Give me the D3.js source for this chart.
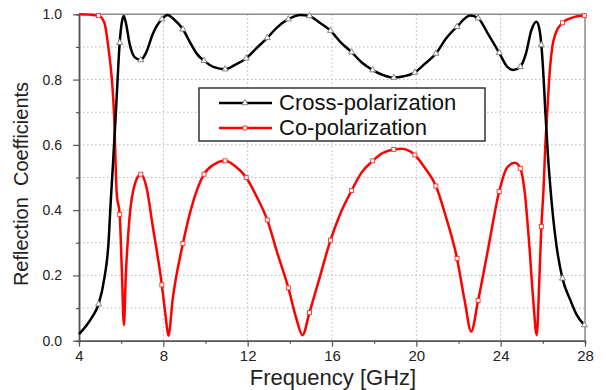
<!DOCTYPE html>
<html>
<head>
<meta charset="utf-8">
<script src="https://cdn.jsdelivr.net/npm/d3@7"></script>
<style>
  body { margin: 0; background: #fff; }
  svg { display: block; font-family: "Liberation Sans", Arial, sans-serif; }
</style>
</head>
<body>
<div id="chart"></div>
<script>
// =====================
// DATA
// =====================
const crossFreq = [4.0, 4.37, 4.65, 4.93, 5.2, 5.4, 5.5, 5.62, 5.75, 5.83, 5.93, 6.03, 6.12, 6.22, 6.4, 6.65, 6.93,
  7.2, 7.5, 7.93, 8.2, 8.5, 8.93, 9.3, 9.6, 9.93, 10.4, 10.93, 11.4, 11.93, 12.4, 12.93, 13.4, 13.93,
  14.5, 14.93, 15.4, 15.93, 16.4, 16.93, 17.4, 17.93, 18.5, 18.93, 19.4, 19.93, 20.4, 20.93, 21.4, 21.93,
  22.55, 22.93, 23.4, 23.93, 24.3, 24.6, 24.93, 25.2, 25.45, 25.7, 25.82, 25.93, 26.04, 26.12, 26.25,
  26.37, 26.5, 26.65, 26.93, 27.3, 27.6, 27.97];
const crossVal = [0.02, 0.048, 0.075, 0.112, 0.19, 0.3, 0.42, 0.55, 0.7, 0.8, 0.913, 0.975, 0.995, 0.975, 0.91, 0.868, 0.86,
  0.885, 0.94, 0.985, 0.998, 0.985, 0.954, 0.91, 0.878, 0.858, 0.838, 0.832, 0.845, 0.865, 0.895, 0.928, 0.96, 0.985,
  0.998, 0.995, 0.975, 0.95, 0.915, 0.884, 0.853, 0.829, 0.812, 0.806, 0.81, 0.822, 0.848, 0.88, 0.925, 0.962,
  0.996, 0.988, 0.94, 0.882, 0.84, 0.829, 0.839, 0.88, 0.95, 0.977, 0.96, 0.906, 0.8, 0.7, 0.56,
  0.46, 0.37, 0.29, 0.191, 0.125, 0.08, 0.048];

const coFreq = [4.0, 4.5, 4.93, 5.2, 5.39, 5.56, 5.66, 5.79, 5.93, 6.03, 6.13, 6.22, 6.4, 6.65, 6.93,
  7.2, 7.5, 7.93, 8.1, 8.24, 8.45, 8.93, 9.3, 9.93, 10.4, 10.93, 11.4, 11.93, 12.4, 12.93, 13.4, 13.93,
  14.3, 14.6, 14.93, 15.4, 15.93, 16.4, 16.93, 17.4, 17.93, 18.4, 18.93, 19.3, 19.93, 20.4, 20.93, 21.4, 21.93,
  22.3, 22.6, 22.93, 23.4, 23.93, 24.3, 24.68, 24.93, 25.15, 25.35, 25.55, 25.71, 25.83, 25.93, 26.03,
  26.12, 26.21, 26.3, 26.45, 26.6, 26.93, 27.4, 27.97];
const coVal = [1.0, 0.999, 0.996, 0.975, 0.9, 0.8, 0.7, 0.45, 0.387, 0.22, 0.048, 0.2, 0.38, 0.48, 0.51,
  0.47, 0.35, 0.171, 0.08, 0.015, 0.13, 0.298, 0.4, 0.51, 0.54, 0.551, 0.535, 0.5, 0.445, 0.37, 0.27, 0.162,
  0.07, 0.017, 0.086, 0.19, 0.308, 0.39, 0.46, 0.515, 0.551, 0.575, 0.586, 0.588, 0.569, 0.53, 0.474, 0.38, 0.252,
  0.12, 0.028, 0.123, 0.28, 0.457, 0.53, 0.545, 0.528, 0.45, 0.3, 0.12, 0.017, 0.18, 0.35, 0.46,
  0.6, 0.7, 0.8, 0.9, 0.94, 0.974, 0.99, 0.996];

const markerFreq = [4.93, 5.93, 6.93, 7.93, 8.93, 9.93, 10.93, 11.93, 12.93, 13.93, 14.93, 15.93, 16.93,
  17.93, 18.93, 19.93, 20.93, 21.93, 22.93, 23.93, 24.93, 25.93, 26.93, 27.97];

const xMajor = [4, 8, 12, 16, 20, 24, 28];
const xMinor = [6, 10, 14, 18, 22, 26];
const yMajor = [0, 0.2, 0.4, 0.6, 0.8, 1.0];
const yMinor = [0.1, 0.3, 0.5, 0.7, 0.9];
const seriesNames = ["Cross-polarization", "Co-polarization"];

// =====================
// SVG SETUP
// =====================
const W = 606, H = 390;
const margin = { top: 14.3, right: 21, bottom: 49.3, left: 79 },
      width = W - margin.left - margin.right,
      height = H - margin.top - margin.bottom;

const svg = d3.select("#chart").append("svg")
  .attr("width", W)
  .attr("height", H);

const g = svg.append("g")
  .attr("transform", `translate(${margin.left},${margin.top})`);

// =====================
// SCALES
// =====================
const x = d3.scaleLinear().domain([4, 28]).range([0, width]);
const y = d3.scaleLinear().domain([0, 1]).range([height, 0]);

// =====================
// GRID
// =====================
g.append("g").selectAll("line")
  .data(yMinor.concat(yMajor.slice(1, -1)))
  .join("line")
  .attr("x1", 0).attr("x2", width)
  .attr("y1", d => y(d)).attr("y2", d => y(d))
  .attr("stroke", "#b8b8b8")
  .attr("stroke-dasharray", "1.5,2.5");

g.append("g").selectAll("line")
  .data(xMajor.slice(1, -1))
  .join("line")
  .attr("y1", 0).attr("y2", height)
  .attr("x1", d => x(d)).attr("x2", d => x(d))
  .attr("stroke", "#b8b8b8")
  .attr("stroke-dasharray", "1.5,2.5");

// top / right frame
g.append("line").attr("x1", 0).attr("x2", width).attr("y1", 0).attr("y2", 0)
  .attr("stroke", "#8a8a8a").attr("stroke-width", 1.5);
g.append("line").attr("x1", width).attr("x2", width).attr("y1", 0).attr("y2", height)
  .attr("stroke", "#8a8a8a").attr("stroke-width", 1.5);

// =====================
// AXES
// =====================
function styleAxis(sel) {
  sel.select(".domain").attr("stroke", "#555").attr("stroke-width", 1.5);
  sel.selectAll(".tick line").attr("stroke", "#555").attr("stroke-width", 1.2);
  sel.selectAll("text").attr("fill", "#222");
}

g.append("g")
  .attr("transform", `translate(0,${height})`)
  .call(d3.axisBottom(x).tickValues(xMinor).tickSize(3).tickFormat(""))
  .call(styleAxis);

g.append("g")
  .attr("transform", `translate(0,${height})`)
  .call(d3.axisBottom(x).tickValues(xMajor).tickSize(6).tickSizeOuter(0).tickPadding(4))
  .call(styleAxis)
  .selectAll("text")
  .style("font-size", "15px");

g.append("g")
  .call(d3.axisLeft(y).tickValues(yMinor).tickSize(3).tickFormat(""))
  .call(styleAxis);

g.append("g")
  .call(d3.axisLeft(y).tickValues(yMajor).tickSize(6).tickSizeOuter(0).tickPadding(11)
    .tickFormat(d3.format(".1f")))
  .call(styleAxis)
  .selectAll("text")
  .style("font-size", "14px");

// axis titles
svg.append("text")
  .attr("x", 333)
  .attr("y", 385)
  .attr("text-anchor", "middle")
  .attr("fill", "#222")
  .style("font-size", "22px")
  .text("Frequency [GHz]");

svg.append("text")
  .attr("transform", "translate(28,184) rotate(-90)")
  .attr("text-anchor", "middle")
  .attr("fill", "#222")
  .style("font-size", "20px")
  .style("white-space", "pre")
  .text("Reflection  Coefficients");

// =====================
// LINES
// =====================
const cross = crossFreq.map((f, i) => ({ f, v: crossVal[i] }));
const co = coFreq.map((f, i) => ({ f, v: coVal[i] }));

const line = d3.line()
  .x(d => x(d.f))
  .y(d => y(d.v))
  .curve(d3.curveMonotoneX);

g.append("path").datum(co)
  .attr("fill", "none").attr("stroke", "#ff0000").attr("stroke-width", 2.5)
  .attr("d", line);

g.append("path").datum(cross)
  .attr("fill", "none").attr("stroke", "#000").attr("stroke-width", 2.5)
  .attr("d", line);

// markers
const tri = d3.symbol().type(d3.symbolTriangle).size(16);

g.append("g").selectAll("path")
  .data(cross.filter(d => markerFreq.includes(d.f)))
  .join("path")
  .attr("transform", d => `translate(${x(d.f)},${y(d.v)})`)
  .attr("d", tri)
  .attr("fill", "#fff").attr("stroke", "#777").attr("stroke-width", 0.9);

g.append("g").selectAll("rect")
  .data(co.filter(d => markerFreq.includes(d.f)))
  .join("rect")
  .attr("x", d => x(d.f) - 2).attr("y", d => y(d.v) - 2)
  .attr("width", 4).attr("height", 4)
  .attr("fill", "#fff").attr("stroke", "#ff3030").attr("stroke-width", 0.9);

// =====================
// LEGEND
// =====================
const legend = svg.append("g").attr("transform", "translate(199,88)");

legend.append("rect")
  .attr("width", 286).attr("height", 53)
  .attr("fill", "#fff").attr("stroke", "#333").attr("stroke-width", 1.5);

const legendColors = ["#000", "#ff0000"];

const items = legend.selectAll(".legend-item")
  .data(seriesNames)
  .join("g")
  .attr("class", "legend-item")
  .attr("transform", (d, i) => `translate(0,${15 + i * 25})`);

items.append("line")
  .attr("x1", 20).attr("x2", 73)
  .attr("stroke", (d, i) => legendColors[i]).attr("stroke-width", 2.5);

items.filter((d, i) => i === 0).append("path")
  .attr("transform", "translate(46,0)")
  .attr("d", tri)
  .attr("fill", "#fff").attr("stroke", "#777").attr("stroke-width", 0.9);

items.filter((d, i) => i === 1).append("rect")
  .attr("x", 44).attr("y", -2).attr("width", 4).attr("height", 4)
  .attr("fill", "#fff").attr("stroke", "#ff3030").attr("stroke-width", 0.9);

items.append("text")
  .attr("x", 80).attr("y", 7)
  .attr("fill", "#111")
  .style("font-size", "22px")
  .text(d => d);
</script>
</body>
</html>
